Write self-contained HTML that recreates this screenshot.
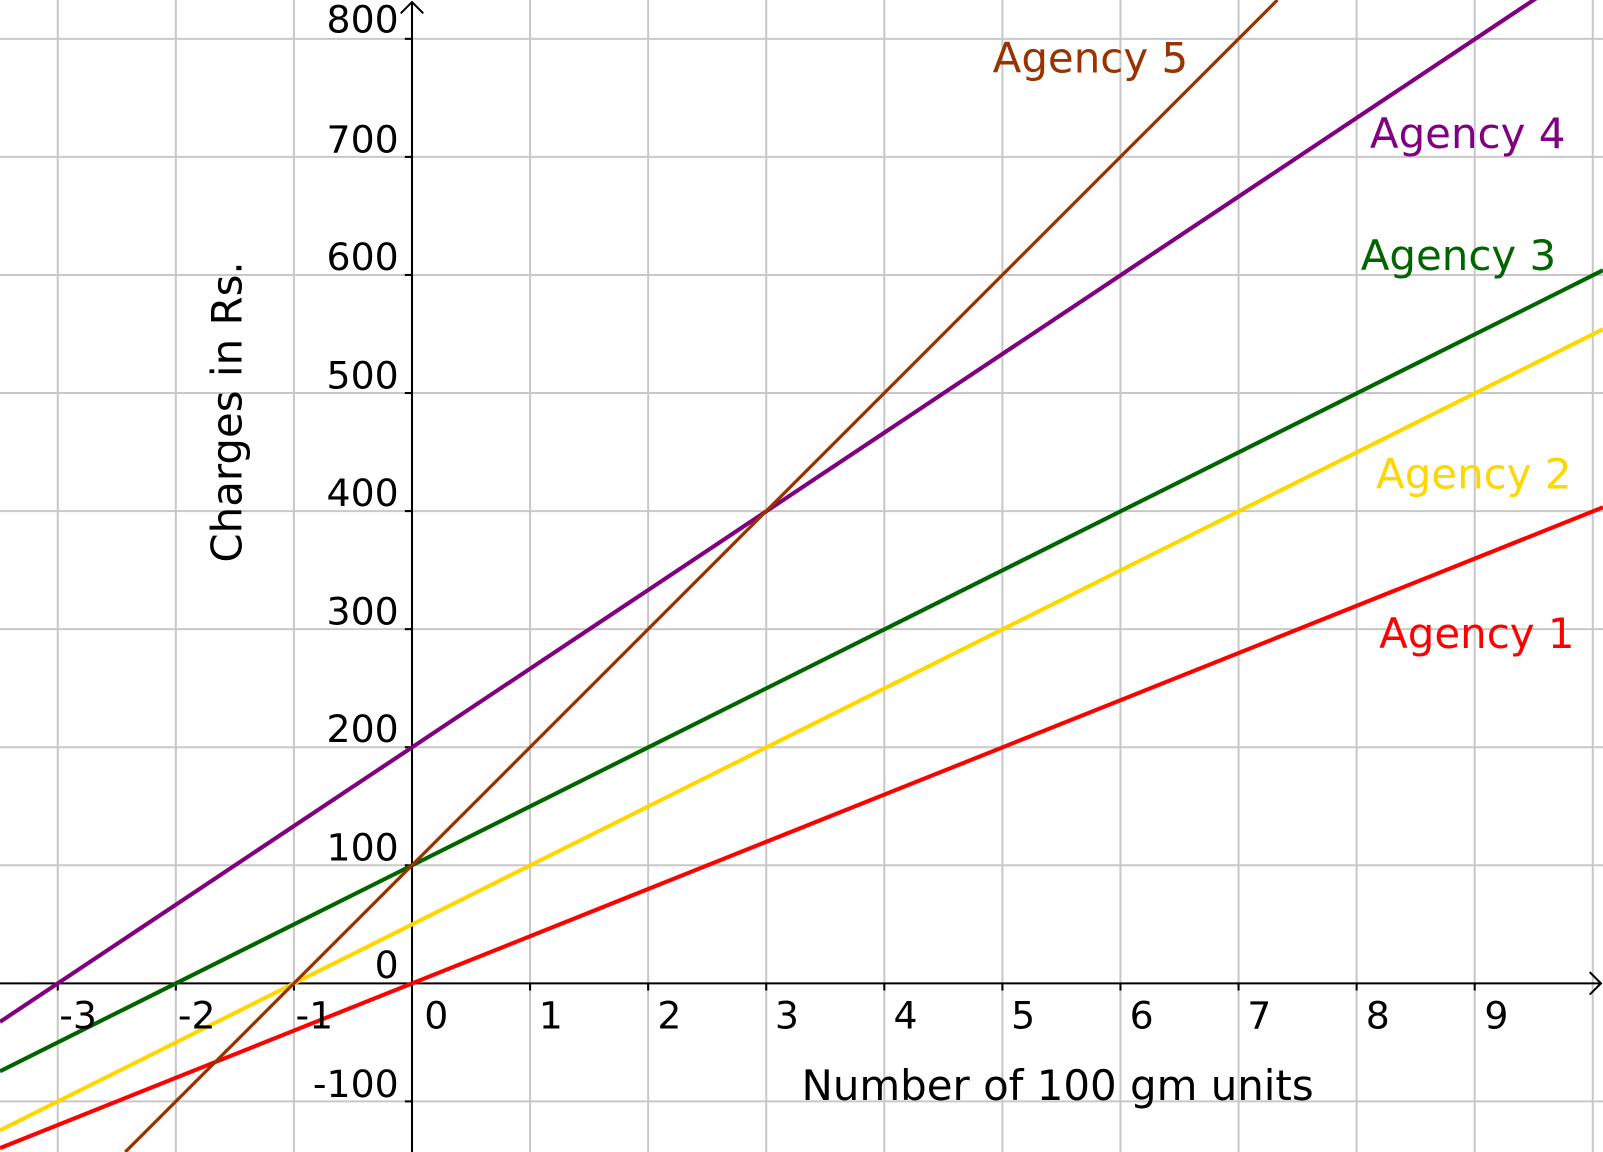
<!DOCTYPE html>
<html><head><style>html,body{margin:0;padding:0;background:#fff;}svg{display:block}</style></head>
<body>
<svg width="1603" height="1152" viewBox="0 0 1568 1127" preserveAspectRatio="none" xmlns="http://www.w3.org/2000/svg" font-family="DejaVu Sans, Liberation Sans, sans-serif">
<rect width="1568" height="1127" fill="#fff"/>
<g stroke="#c8c8c8" stroke-width="2">
<line x1="56.5" y1="0" x2="56.5" y2="1127"/><line x1="172" y1="0" x2="172" y2="1127"/><line x1="287.5" y1="0" x2="287.5" y2="1127"/>
<line x1="518.5" y1="0" x2="518.5" y2="1127"/><line x1="634" y1="0" x2="634" y2="1127"/><line x1="749.5" y1="0" x2="749.5" y2="1127"/>
<line x1="865" y1="0" x2="865" y2="1127"/><line x1="980.5" y1="0" x2="980.5" y2="1127"/><line x1="1096" y1="0" x2="1096" y2="1127"/>
<line x1="1211.5" y1="0" x2="1211.5" y2="1127"/><line x1="1327" y1="0" x2="1327" y2="1127"/><line x1="1442.5" y1="0" x2="1442.5" y2="1127"/><line x1="1558" y1="0" x2="1558" y2="1127"/>
<line x1="0" y1="38" x2="1568" y2="38"/><line x1="0" y1="153.5" x2="1568" y2="153.5"/><line x1="0" y1="269" x2="1568" y2="269"/>
<line x1="0" y1="384.5" x2="1568" y2="384.5"/><line x1="0" y1="500" x2="1568" y2="500"/><line x1="0" y1="615.5" x2="1568" y2="615.5"/>
<line x1="0" y1="731" x2="1568" y2="731"/><line x1="0" y1="846.5" x2="1568" y2="846.5"/><line x1="0" y1="1077.5" x2="1568" y2="1077.5"/>
</g>
<g stroke="#000" stroke-width="2" fill="none">
<line x1="0" y1="962" x2="1566" y2="962"/>
<polyline points="1555,951 1566,962 1555,973"/>
<line x1="403" y1="1127" x2="403" y2="2"/>
<polyline points="392,13 403,2 414,13"/>
<g>
<line x1="56.5" y1="962" x2="56.5" y2="969"/><line x1="172" y1="962" x2="172" y2="969"/><line x1="287.5" y1="962" x2="287.5" y2="969"/>
<line x1="518.5" y1="962" x2="518.5" y2="969"/><line x1="634" y1="962" x2="634" y2="969"/><line x1="749.5" y1="962" x2="749.5" y2="969"/>
<line x1="865" y1="962" x2="865" y2="969"/><line x1="980.5" y1="962" x2="980.5" y2="969"/><line x1="1096" y1="962" x2="1096" y2="969"/>
<line x1="1211.5" y1="962" x2="1211.5" y2="969"/><line x1="1327" y1="962" x2="1327" y2="969"/><line x1="1442.5" y1="962" x2="1442.5" y2="969"/>
<line x1="396" y1="38" x2="403" y2="38"/><line x1="396" y1="153.5" x2="403" y2="153.5"/><line x1="396" y1="269" x2="403" y2="269"/>
<line x1="396" y1="384.5" x2="403" y2="384.5"/><line x1="396" y1="500" x2="403" y2="500"/><line x1="396" y1="615.5" x2="403" y2="615.5"/>
<line x1="396" y1="731" x2="403" y2="731"/><line x1="396" y1="846.5" x2="403" y2="846.5"/><line x1="396" y1="1077.5" x2="403" y2="1077.5"/>
</g>
</g>
<g stroke-width="4" fill="none">
<line x1="0" y1="1123.2" x2="1568" y2="496.3" stroke="#ff0000"/>
<line x1="0" y1="1105.8" x2="1568" y2="322.1" stroke="#ffd700"/>
<line x1="0" y1="1048" x2="1568" y2="264.4" stroke="#006400"/>
<line x1="0" y1="999.7" x2="1568" y2="-45.2" stroke="#800080"/>
<line x1="122.5" y1="1127" x2="1249.5" y2="0" stroke="#993300" stroke-width="3.2"/>
</g>
<g font-size="37" fill="#000">
<g text-anchor="end">
<text x="390" y="32">800</text><text x="390" y="149">700</text><text x="390" y="264">600</text>
<text x="390" y="380">500</text><text x="390" y="495">400</text><text x="390" y="611">300</text>
<text x="390" y="726">200</text><text x="390" y="842">100</text><text x="390" y="957">0</text><text x="390" y="1073">-100</text>
</g>
<text x="58" y="1006">-3</text><text x="174" y="1006">-2</text><text x="289" y="1006">-1</text>
<text x="415" y="1006">0</text><text x="527" y="1006">1</text><text x="643" y="1006">2</text><text x="758" y="1006">3</text>
<text x="874" y="1006">4</text><text x="989" y="1006">5</text><text x="1105" y="1006">6</text><text x="1220" y="1006">7</text>
<text x="1336" y="1006">8</text><text x="1452" y="1006">9</text>
</g>
<g font-size="41">
<text x="784" y="1076" textLength="501" fill="#000">Number of 100 gm units</text>
<text transform="translate(236,403) rotate(-90)" text-anchor="middle" fill="#000">Charges in Rs.</text>
<text x="971" y="71" fill="#993300">Agency 5</text>
<text x="1340" y="145" fill="#800080">Agency 4</text>
<text x="1331" y="264" fill="#006400">Agency 3</text>
<text x="1346" y="478" fill="#ffd700">Agency 2</text>
<text x="1349" y="634" fill="#ff0000">Agency 1</text>
</g>
</svg>
</body></html>
